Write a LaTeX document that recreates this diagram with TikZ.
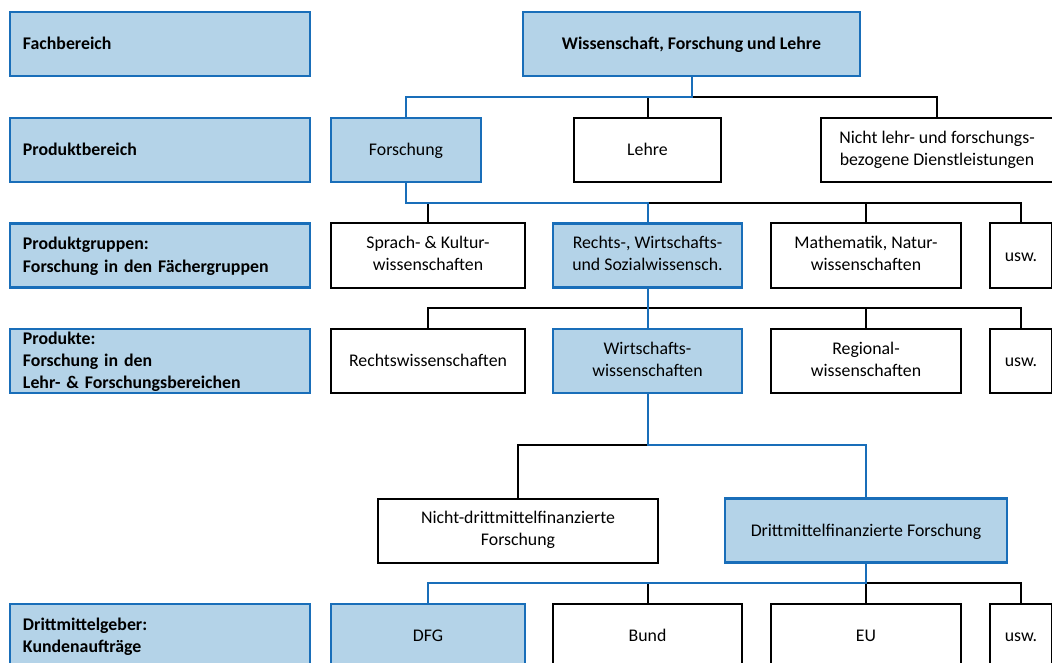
\documentclass[tikz,border=0pt]{standalone}
\usepackage{fontspec}
\setmainfont{Carlito}
\definecolor{boxfill}{RGB}{180,211,232}
\definecolor{boxline}{RGB}{25,110,185}
\newcommand{\boxfont}{\fontsize{17.8}{22}\selectfont}
\newcommand{\topstrut}{\rule{0pt}{14.5pt}}
\newcommand{\botstrut}{\rule[-3.5pt]{0pt}{3.5pt}}
\tikzset{
  base/.style={rectangle, minimum height=64pt, inner sep=0pt, outer sep=0pt,
    font=\boxfont, align=center,
    execute at begin node=\topstrut, execute at end node=\botstrut},
  lblbox/.style={base, fill=boxfill, draw=boxline, line width=2.5pt,
    minimum width=300pt, text width=274pt, align=left, font=\boxfont\bfseries},
  hlbox/.style={base, fill=boxfill, draw=boxline, line width=2.5pt},
  plbox/.style={base, fill=white, draw=black, line width=2pt},
  bk/.style={draw=black, line width=2pt},
  bl/.style={draw=boxline, line width=2pt},
}
\begin{document}
\begin{tikzpicture}[x=1pt,y=-1pt]
\useasboundingbox (0,0) rectangle (1052,663);
% labels
\node[lblbox] (fach) at (160,44) {Fachbereich};
\node[lblbox] (prodb) at (160,150) {Produktbereich};
\node[lblbox] (prodg) at (160,255.5) {Produktgruppen:\\Forschung in den Fächergruppen};
\node[lblbox] (prod) at (160,361) {Produkte:\\Forschung in den\\Lehr- \& Forschungsbereichen};
\node[lblbox] (dmg) at (160,636) {Drittmittelgeber:\\Kundenaufträge};
% row 1
\node[hlbox, minimum width=337pt, font=\boxfont\bfseries] (wiss) at (691.5,44) {Wissenschaft, Forschung und Lehre};
% row 2
\node[hlbox, minimum width=150pt] (forsch) at (406,150) {Forschung};
\node[plbox, minimum width=147pt] (lehre) at (647.5,150) {Lehre};
\node[plbox, minimum width=232pt] (nicht) at (937,150) {Nicht lehr- und forschungs-\\bezogene Dienstleistungen};
% row 3
\node[plbox, minimum width=194pt] (sprach) at (428,255.5) {Sprach- \& Kultur-\\wissenschaften};
\node[hlbox, minimum width=189pt] (rws) at (647.5,255.5) {Rechts-, Wirtschafts-\\und Sozialwissensch.};
\node[plbox, minimum width=190pt] (mathe) at (866,255.5) {Mathematik, Natur-\\wissenschaften};
\node[plbox, minimum width=62pt] (usw1) at (1021,255.5) {usw.};
% row 4
\node[plbox, minimum width=194pt] (recht) at (428,361) {Rechtswissenschaften};
\node[hlbox, minimum width=189pt] (wirt) at (647.5,361) {Wirtschafts-\\wissenschaften};
\node[plbox, minimum width=190pt] (regio) at (866,361) {Regional-\\wissenschaften};
\node[plbox, minimum width=62pt] (usw2) at (1021,361) {usw.};
% row 5
\node[plbox, minimum width=280pt] (ndm) at (518,530.5) {Nicht-drittmittelfinanzierte\\Forschung};
\node[hlbox, minimum width=282pt] (dm) at (866,530.5) {Drittmittelfinanzierte Forschung};
% row 6
\node[hlbox, minimum width=194pt] (dfg) at (428,636) {DFG};
\node[plbox, minimum width=189pt] (bund) at (647.5,636) {Bund};
\node[plbox, minimum width=190pt] (eu) at (866,636) {EU};
\node[plbox, minimum width=62pt] (usw3) at (1021,636) {usw.};
% bus coordinates
\coordinate (b1) at (wiss.south |- 0,97);
\coordinate (b2) at (forsch.south |- 0,203);
\coordinate (b3) at (rws.south |- 0,308);
\coordinate (b4) at (wirt.south |- 0,445);
\coordinate (b5) at (dm.south |- 0,583);
% black connectors
\draw[bk] (b1) -| (nicht.north);
\draw[bk] (lehre.north) -- (lehre.north |- b1);
\draw[bk] (sprach.north) |- (usw1.north |- b2) -- (usw1.north);
\draw[bk] (mathe.north) -- (mathe.north |- b2);
\draw[bk] (recht.north) |- (usw2.north |- b3) -- (usw2.north);
\draw[bk] (regio.north) -- (regio.north |- b3);
\draw[bk] (ndm.north) |- (b4);
\draw[bk] (bund.north) |- (usw3.north |- b5) -- (usw3.north);
\draw[bk] (eu.north) -- (eu.north |- b5);
% blue connectors
\draw[bl] (wiss.south) -- (b1) -| (forsch.north);
\draw[bl] (forsch.south) -- (b2) -| (rws.north);
\draw[bl] (rws.south) -- (wirt.north);
\draw[bl] (wirt.south) -- (b4) -| (dm.north);
\draw[bl] (dm.south) -- (b5) -| (dfg.north);
\end{tikzpicture}
\end{document}
